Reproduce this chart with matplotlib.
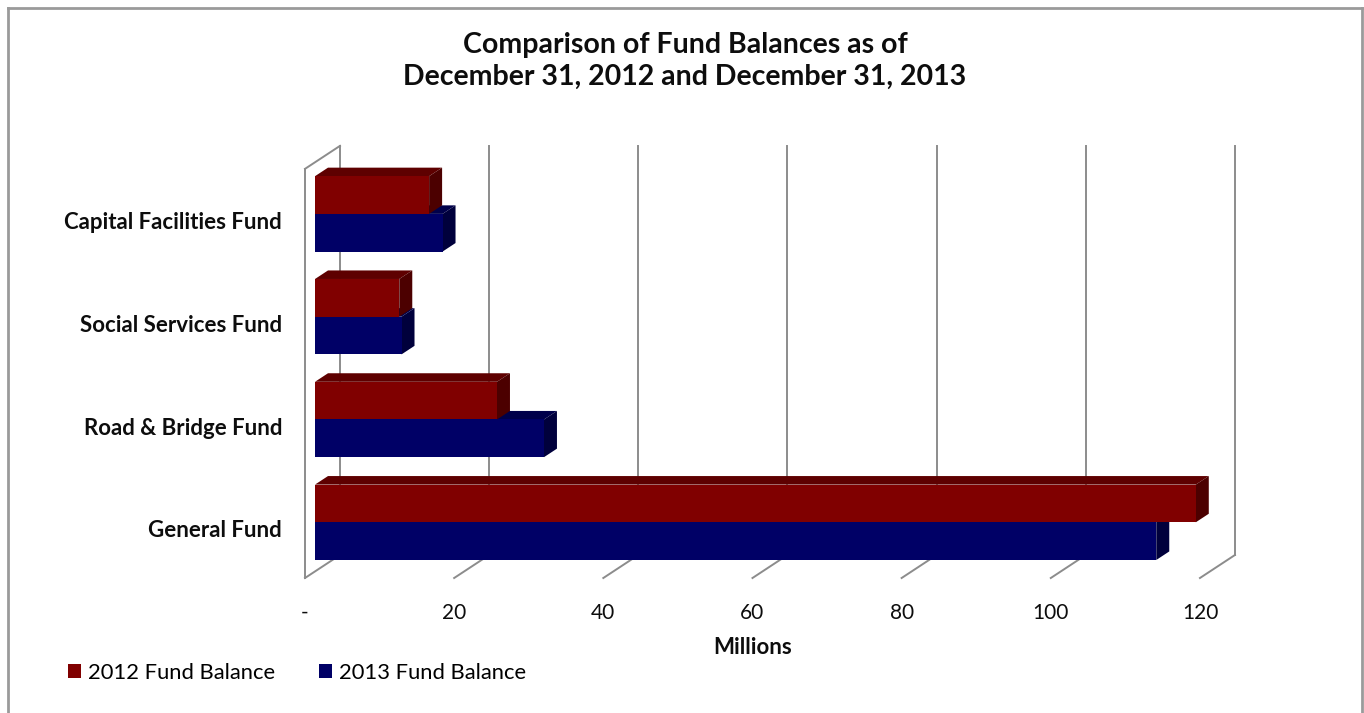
import matplotlib
matplotlib.use("Agg")
import matplotlib.pyplot as plt
from matplotlib.patches import Polygon, Patch
from matplotlib.lines import Line2D

# ---- data ----
categories = ["General Fund", "Road & Bridge Fund", "Social Services Fund", "Capital Facilities Fund"]
series_names = ["2012 Fund Balance", "2013 Fund Balance"]
fund_2012 = [118.1, 24.4, 11.3, 15.3]
fund_2013 = [112.8, 30.7, 11.6, 17.1]
x_ticks = [0, 20, 40, 60, 80, 100, 120]
x_tick_labels = ["-", "20", "40", "60", "80", "100", "120"]
title = "Comparison of Fund Balances as of\nDecember 31, 2012 and December 31, 2013"
x_label = "Millions"

# ---- style ----
W, H, DPI = 1364, 713, 100
PX_PER_UNIT = 7.458      # pixels per million along x
PX_PER_Y = 102.8         # pixels per category step
X0_PX, Y0_PX = 305, 578  # front-floor origin in pixels (from top)
DX = 35 / PX_PER_UNIT    # full depth offset in x units
DY = 23 / PX_PER_Y       # full depth offset in y units
D_FRONT, D_BACK = 0.286, 0.657
BAR_H = 37.7 / PX_PER_Y
CAT0 = 0.478
WALL_TOP = 3.98
red_front, red_top, red_side = "#800000", "#5e0000", "#4c0000"
blu_front, blu_top, blu_side = "#000066", "#00004a", "#00003c"
grid_c = "#8c8c8c"
txt_c = "#0d0d0d"
FONT = ["Lato", "DejaVu Sans"]
plt.rcParams["font.family"] = FONT

fig = plt.figure(figsize=(W / DPI, H / DPI), dpi=DPI)
ax = fig.add_axes([0, 0, 1, 1])
ax.set_xlim(-X0_PX / PX_PER_UNIT, (W - X0_PX) / PX_PER_UNIT)
ax.set_ylim(-(H - Y0_PX) / PX_PER_Y, Y0_PX / PX_PER_Y)
ax.axis("off")


def proj(v, h, d):
    return (v + d * DX, h + d * DY)


# walls / gridlines
for t in x_ticks:
    ax.add_line(Line2D(*zip(proj(t, 0, 1), proj(t, WALL_TOP, 1)), color=grid_c, lw=1.4, zorder=1))
    ax.add_line(Line2D(*zip(proj(t, 0, 0), proj(t, 0, 1)), color=grid_c, lw=1.4, zorder=1))
ax.add_line(Line2D(*zip(proj(0, 0, 0), proj(0, WALL_TOP, 0)), color=grid_c, lw=1.4, zorder=1))
ax.add_line(Line2D(*zip(proj(0, WALL_TOP, 0), proj(0, WALL_TOP, 1)), color=grid_c, lw=1.4, zorder=1))


def box(v, y_bot, front, top, side, z):
    y_top = y_bot + BAR_H
    f = [proj(0, y_bot, D_FRONT), proj(v, y_bot, D_FRONT), proj(v, y_top, D_FRONT), proj(0, y_top, D_FRONT)]
    tp = [proj(0, y_top, D_FRONT), proj(v, y_top, D_FRONT), proj(v, y_top, D_BACK), proj(0, y_top, D_BACK)]
    sd = [proj(v, y_bot, D_FRONT), proj(v, y_bot, D_BACK), proj(v, y_top, D_BACK), proj(v, y_top, D_FRONT)]
    for pts, c in ((tp, top), (sd, side), (f, front)):
        ax.add_patch(Polygon(pts, closed=True, facecolor=c, edgecolor="none", zorder=z))


for i, cat in enumerate(categories):
    yc = CAT0 + i
    box(fund_2013[i], yc - BAR_H, blu_front, blu_top, blu_side, 3)
    box(fund_2012[i], yc, red_front, red_top, red_side, 4)
    ax.text(-23 / PX_PER_UNIT, yc - 0.02, cat, ha="right", va="center",
            fontsize=16, fontweight="bold", color=txt_c)

for t, lab in zip(x_ticks, x_tick_labels):
    ax.text(t, -(613 - Y0_PX) / PX_PER_Y, lab, ha="center", va="center", fontsize=15, color=txt_c)

fig.text(753 / W, 1 - 647 / H, x_label, ha="center", va="center", fontsize=16, fontweight="bold", color=txt_c)
fig.text(685 / W, 1 - 61 / H, title, ha="center", va="center", fontsize=20.5, fontweight="bold",
         color=txt_c, linespacing=1.3)

handles = [Patch(facecolor=red_front), Patch(facecolor=blu_front)]
fig.legend(handles, series_names, loc="center left", bbox_to_anchor=(68 / W, 1 - 673 / H), ncol=2,
           frameon=False, fontsize=15.8, handlelength=0.6, handleheight=0.6, handletextpad=0.3,
           columnspacing=2.0, borderaxespad=0, borderpad=0)

# outer border
bc = "#9a9a9a"
fig.add_artist(Line2D([8 / W, 8 / W], [0, 1 - 8 / H], color=bc, lw=2, transform=fig.transFigure))
fig.add_artist(Line2D([8 / W, 1362 / W], [1 - 8 / H, 1 - 8 / H], color=bc, lw=2, transform=fig.transFigure))
fig.add_artist(Line2D([1362 / W, 1362 / W], [0, 1 - 8 / H], color=bc, lw=2, transform=fig.transFigure))

fig.savefig("out.png", dpi=DPI, facecolor="white")
